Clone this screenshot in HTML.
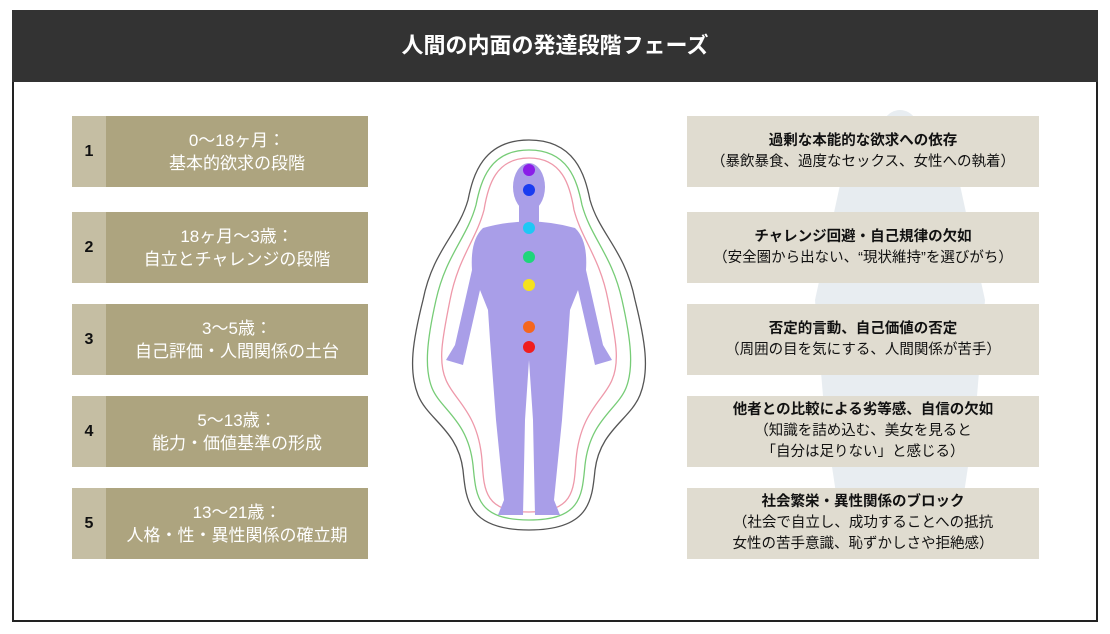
<!DOCTYPE html>
<html><head><meta charset="utf-8"><style>
body{margin:0;width:1110px;height:634px;background:#fff;font-family:"Liberation Sans","Noto Sans CJK JP",sans-serif;position:relative;overflow:hidden}
.frame{position:absolute;left:12px;top:10px;width:1086px;height:612px;border:2px solid #222;box-sizing:border-box}
.hdr{position:absolute;left:12px;top:10px;width:1086px;height:72px;background:#333;color:#fff;font-size:22px;font-weight:bold;text-align:center;line-height:72px}
.lb{position:absolute;left:72px;width:296px;height:71px;background:#ada47f;color:#fff;font-size:17px}
.lb .n{position:absolute;left:0;top:0;width:34px;height:71px;background:#c5bea3;color:#111;font-weight:bold;font-size:16px;text-align:center;line-height:71px}
.lb .t{position:absolute;left:34px;right:0;top:0;height:71px;display:flex;flex-direction:column;justify-content:center;align-items:center;line-height:23px}
.rb{position:absolute;left:687px;width:352px;height:71px;background:#e0dcd0;color:#111;font-size:14.5px;display:flex;flex-direction:column;justify-content:center;align-items:center;line-height:21px;text-align:center}
</style></head><body>
<svg style="position:absolute;left:0;top:0" width="1110" height="634">
<g opacity="0.2" fill="#8aa4b8">
<ellipse cx="900" cy="140" rx="22" ry="30"/>
<path d="M840 185 Q900 165 960 185 L985 300 L975 420 L960 520 L840 520 L825 420 L815 300 Z"/>
</g>
<g fill="none" stroke-width="1.3">
<path d="M529 140 C575 140 585 175 590 200 C600 235 625 250 635 300 C645 340 650 370 640 395 C630 420 600 430 595 470 C592 500 590 530 529 530 C468 530 466 500 463 470 C458 430 428 420 418 395 C408 370 413 340 423 300 C433 250 458 235 468 200 C473 175 483 140 529 140Z" stroke="#555"/>
<path d="M529 150 C568 150 577 180 582 205 C591 238 612 255 622 300 C631 340 634 368 626 388 C617 410 590 420 585 465 C582 495 582 520 529 520 C476 520 476 495 473 465 C468 420 441 410 432 388 C424 368 427 340 436 300 C446 255 467 238 476 205 C481 180 490 150 529 150Z" stroke="#7c7"/>
<path d="M529 158 C562 158 570 185 574 210 C582 240 600 258 608 300 C616 340 620 362 612 380 C604 400 580 412 576 460 C574 490 574 512 529 512 C484 512 484 490 482 460 C478 412 454 400 446 380 C438 362 442 340 450 300 C458 258 476 240 484 210 C488 185 496 158 529 158Z" stroke="#e9a"/>
</g>
<g fill="#a99ee8">
<ellipse cx="529" cy="187" rx="16" ry="24"/>
<rect x="519" y="205" width="20" height="20"/>
<path d="M483 228 Q529 215 575 228 Q588 240 586 270 L603 345 L612 360 L595 365 L578 290 L570 310 L568 340 L562 420 L554 500 L560 515 L535 515 L533 420 L529 360 L525 420 L523 515 L498 515 L504 500 L496 420 L490 340 L488 310 L480 290 L463 365 L446 360 L455 345 L472 270 Q470 240 483 228Z"/>
</g>
<g>
<circle cx="529" cy="170" r="6" fill="#8a1ee8"/>
<circle cx="529" cy="190" r="6" fill="#1a3cf0"/>
<circle cx="529" cy="228" r="6" fill="#1ec8f5"/>
<circle cx="529" cy="257" r="6" fill="#1ed67a"/>
<circle cx="529" cy="285" r="6" fill="#f5e21e"/>
<circle cx="529" cy="327" r="6" fill="#f5661e"/>
<circle cx="529" cy="347" r="6" fill="#f01e1e"/>
</g>
</svg>
<div class="frame"></div>
<div class="hdr">人間の内面の発達段階フェーズ</div>
<div class="lb" style="top:116px"><div class="n">1</div><div class="t"><span>0〜18ヶ月：</span><span>基本的欲求の段階</span></div></div>
<div class="lb" style="top:212px"><div class="n">2</div><div class="t"><span>18ヶ月〜3歳：</span><span>自立とチャレンジの段階</span></div></div>
<div class="lb" style="top:304px"><div class="n">3</div><div class="t"><span>3〜5歳：</span><span>自己評価・人間関係の土台</span></div></div>
<div class="lb" style="top:396px"><div class="n">4</div><div class="t"><span>5〜13歳：</span><span>能力・価値基準の形成</span></div></div>
<div class="lb" style="top:488px"><div class="n">5</div><div class="t"><span>13〜21歳：</span><span>人格・性・異性関係の確立期</span></div></div>
<div class="rb" style="top:116px"><b>過剰な本能的な欲求への依存</b><span>（暴飲暴食、過度なセックス、女性への執着）</span></div>
<div class="rb" style="top:212px"><b>チャレンジ回避・自己規律の欠如</b><span>（安全圏から出ない、“現状維持”を選びがち）</span></div>
<div class="rb" style="top:304px"><b>否定的言動、自己価値の否定</b><span>（周囲の目を気にする、人間関係が苦手）</span></div>
<div class="rb" style="top:396px"><b>他者との比較による劣等感、自信の欠如</b><span>（知識を詰め込む、美女を見ると</span><span>「自分は足りない」と感じる）</span></div>
<div class="rb" style="top:488px"><b>社会繁栄・異性関係のブロック</b><span>（社会で自立し、成功することへの抵抗</span><span>女性の苦手意識、恥ずかしさや拒絶感）</span></div>
</body></html>
